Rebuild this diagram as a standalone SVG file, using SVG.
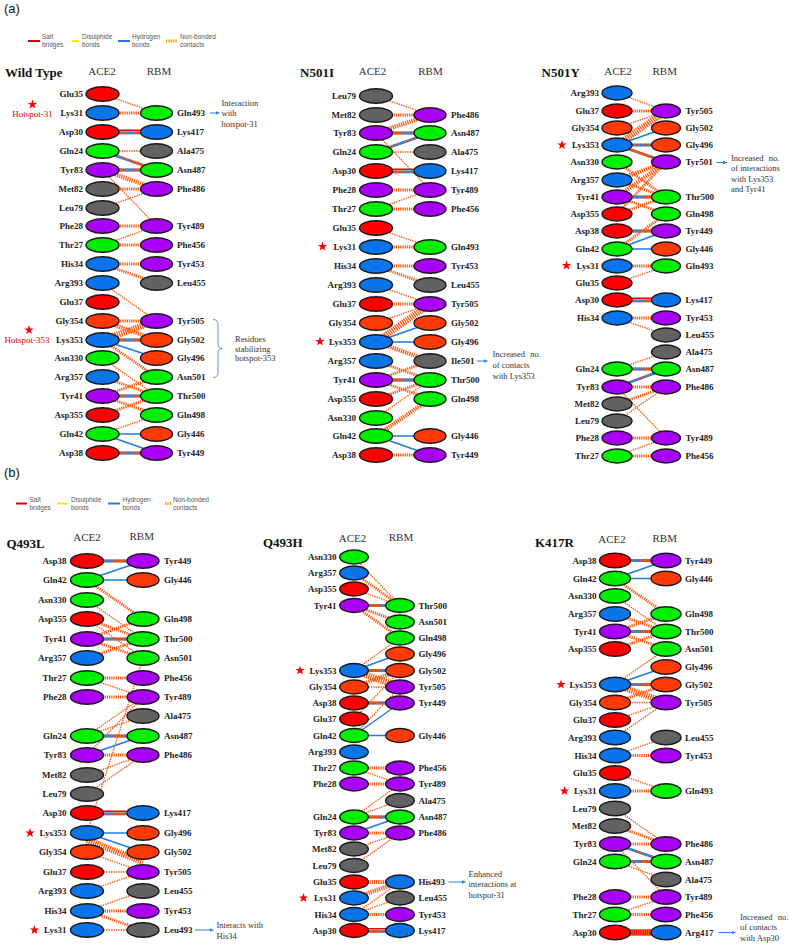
<svg xmlns="http://www.w3.org/2000/svg" width="789" height="944" viewBox="0 0 789 944">
<style>
.bg{fill:#fff}
ellipse{stroke:#1a1a1a;stroke-width:1.4}
.r{fill:#ff0000}.b{fill:#0a74ea}.g{fill:#00f000}.p{fill:#a800f8}.k{fill:#626262}.o{fill:#ff3a06}
text{font-family:"Liberation Serif","Times New Roman",serif}
.t{font-weight:bold;font-size:9px;fill:#222}
.e{text-anchor:end}
.h{font-size:11px;fill:#333;text-anchor:middle}
.ttl{font-weight:bold;font-size:13px;fill:#111}
.ann{font-size:8.5px;fill:#333}
.hs{font-size:9px;fill:#e00000;text-anchor:middle}
.leg{font-family:"Liberation Sans",Arial,sans-serif;font-size:6.5px;fill:#555}
.pl{font-family:"Liberation Sans",Arial,sans-serif;font-size:13px;fill:#111}
line{fill:none}
.c1{stroke:#ff5a10;stroke-width:1.4;stroke-dasharray:1.4 1}
.c2{stroke:#ff5a10;stroke-width:2.8;stroke-dasharray:1.3 0.9}
.c3{stroke:#ff5a10;stroke-width:4.2;stroke-dasharray:1.3 0.9}
.c4{stroke:#ff5a10;stroke-width:6.5;stroke-dasharray:1.3 0.9}
.hb{stroke:#1e7be0;stroke-width:1.4}
.hbw{stroke:#1e7be0;stroke-width:2.8}
.sb{stroke:#e8000a;stroke-width:1.6}
.sbw{stroke:#e8000a;stroke-width:6}
.arr{stroke:#2f80d0;stroke-width:1;marker-end:url(#ah)}
.brace{stroke:#5b9bd5;stroke-width:1;fill:none}
.star{fill:#ff0000}
</style>
<defs>
<marker id="ah" markerUnits="userSpaceOnUse" markerWidth="5" markerHeight="5" refX="4" refY="2.5" orient="auto"><path d="M0,0.6 L4,2.5 L0,4.4 Z" fill="#2f80d0"/></marker>
<path id="star" d="M0,-5 L1.18,-1.62 L4.76,-1.55 L1.9,0.62 L2.94,4.05 L0,2 L-2.94,4.05 L-1.9,0.62 L-4.76,-1.55 L-1.18,-1.62 Z"/>
</defs>
<rect class="bg" x="0" y="0" width="789" height="944"/>

<!-- Panel labels and legends -->
<text class="pl" x="4" y="13">(a)</text>
<text class="pl" x="4" y="477">(b)</text>
<g id="legend-a">
<line x1="28" y1="41" x2="40" y2="41" stroke="#e00000" stroke-width="2"/>
<text class="leg" x="42" y="39">Salt</text><text class="leg" x="42" y="46.5">bridges</text>
<line x1="72" y1="41" x2="79" y2="41" stroke="#ffe600" stroke-width="2"/>
<text class="leg" x="82" y="39">Disulphide</text><text class="leg" x="82" y="46.5">bonds</text>
<line x1="118" y1="41" x2="130" y2="41" stroke="#1e7be0" stroke-width="2"/>
<text class="leg" x="132" y="39">Hydrogen</text><text class="leg" x="132" y="46.5">bonds</text>
<line x1="166" y1="41" x2="177" y2="41" stroke="#ffa000" stroke-width="3" stroke-dasharray="1 0.7"/>
<text class="leg" x="180" y="39">Non-bonded</text><text class="leg" x="180" y="46.5">contacts</text>
</g>
<g id="legend-b">
<line x1="16" y1="503.5" x2="27" y2="503.5" stroke="#e00000" stroke-width="2"/>
<text class="leg" x="29.5" y="501.5">Salt</text><text class="leg" x="29.5" y="509.5">bridges</text>
<line x1="57" y1="503.5" x2="68" y2="503.5" stroke="#ffe600" stroke-width="2"/>
<text class="leg" x="71" y="501.5">Disulphide</text><text class="leg" x="71" y="509.5">bonds</text>
<line x1="108" y1="503.5" x2="120" y2="503.5" stroke="#1e7be0" stroke-width="2"/>
<text class="leg" x="122.5" y="501.5">Hydrogen</text><text class="leg" x="122.5" y="509.5">bonds</text>
<line x1="165" y1="503.5" x2="171" y2="503.5" stroke="#ffa000" stroke-width="3" stroke-dasharray="1 0.7"/>
<text class="leg" x="173" y="501.5">Non-bonded</text><text class="leg" x="173" y="509.5">contacts</text>
</g>

<!-- Titles / headers -->
<g id="headers">
<text class="ttl" x="5" y="77">Wild Type</text><text class="h" x="102" y="75">ACE2</text><text class="h" x="159" y="75">RBM</text>
<text class="ttl" x="300" y="77">N501I</text><text class="h" x="372.5" y="75">ACE2</text><text class="h" x="430.5" y="75">RBM</text>
<text class="ttl" x="541.5" y="77">N501Y</text><text class="h" x="618" y="75">ACE2</text><text class="h" x="664.7" y="75">RBM</text>
<text class="ttl" x="6.5" y="548">Q493L</text><text class="h" x="87" y="541">ACE2</text><text class="h" x="141.7" y="540">RBM</text>
<text class="ttl" x="263" y="547">Q493H</text><text class="h" x="352.5" y="542">ACE2</text><text class="h" x="401" y="541">RBM</text>
<text class="ttl" x="535" y="547">K417R</text><text class="h" x="612" y="542.5">ACE2</text><text class="h" x="664.7" y="541.5">RBM</text>
</g>

<g id="connectors">
<!-- WT -->
<line class="c1" x1="102.5" y1="94" x2="156.5" y2="113"/>
<line class="c2" x1="102.5" y1="113" x2="156.5" y2="113"/>
<line class="sb" x1="102.5" y1="130.2" x2="156.5" y2="130.2"/><line class="hbw" x1="102.5" y1="132.8" x2="156.5" y2="132.8"/><line class="c2" x1="102.5" y1="132.8" x2="156.5" y2="132.8"/>
<line class="c1" x1="102.5" y1="151" x2="156.5" y2="151"/>
<line class="hbw" x1="102.5" y1="151" x2="156.5" y2="170"/><line class="c2" x1="102.5" y1="151" x2="156.5" y2="170"/>
<line class="hbw" x1="102.5" y1="170" x2="156.5" y2="170"/><line class="c2" x1="102.5" y1="170" x2="156.5" y2="170"/>
<line class="c3" x1="102.5" y1="170" x2="156.5" y2="189"/>
<line class="c1" x1="102.5" y1="170" x2="156.5" y2="226"/>
<line class="c2" x1="102.5" y1="189" x2="156.5" y2="189"/>
<line class="c1" x1="102.5" y1="208" x2="156.5" y2="189"/>
<line class="c2" x1="102.5" y1="226" x2="156.5" y2="226"/>
<line class="c1" x1="102.5" y1="245" x2="156.5" y2="226"/>
<line class="c2" x1="102.5" y1="245" x2="156.5" y2="245"/>
<line class="c2" x1="102.5" y1="264" x2="156.5" y2="264"/>
<line class="c2" x1="102.5" y1="264" x2="156.5" y2="283"/>
<line class="c1" x1="102.5" y1="283" x2="156.5" y2="321"/>
<line class="c2" x1="102.5" y1="321" x2="156.5" y2="321"/>
<line class="c4" x1="102.5" y1="340" x2="156.5" y2="321"/>
<line class="c3" x1="102.5" y1="321" x2="156.5" y2="340"/>
<line class="hbw" x1="102.5" y1="340" x2="156.5" y2="340"/><line class="c2" x1="102.5" y1="340" x2="156.5" y2="340"/>
<line class="hb" x1="102.5" y1="340" x2="156.5" y2="358"/>
<line class="c2" x1="102.5" y1="340" x2="156.5" y2="377"/>
<line class="c1" x1="102.5" y1="358" x2="156.5" y2="396"/>
<line class="c2" x1="102.5" y1="377" x2="156.5" y2="396"/>
<line class="c2" x1="102.5" y1="396" x2="156.5" y2="377"/>
<line class="hbw" x1="102.5" y1="396" x2="156.5" y2="396"/><line class="c2" x1="102.5" y1="396" x2="156.5" y2="396"/>
<line class="c2" x1="102.5" y1="396" x2="156.5" y2="415"/>
<line class="c2" x1="102.5" y1="415" x2="156.5" y2="396"/>
<line class="c1" x1="102.5" y1="434" x2="156.5" y2="415"/>
<line class="hb" x1="102.5" y1="434" x2="156.5" y2="434"/>
<line class="hb" x1="102.5" y1="434" x2="156.5" y2="453"/>
<line class="hbw" x1="102.5" y1="453" x2="156.5" y2="453"/><line class="c2" x1="102.5" y1="453" x2="156.5" y2="453"/>
<!-- N501I -->
<line class="c1" x1="376" y1="96" x2="430" y2="115"/>
<line class="c2" x1="376" y1="115" x2="430" y2="115"/>
<line class="c3" x1="376" y1="133" x2="430" y2="115"/>
<line class="hbw" x1="376" y1="133" x2="430" y2="133"/><line class="c2" x1="376" y1="133" x2="430" y2="133"/>
<line class="hbw" x1="376" y1="152" x2="430" y2="133"/><line class="c1" x1="376" y1="152" x2="430" y2="133"/>
<line class="c1" x1="376" y1="152" x2="430" y2="152"/>
<line class="c1" x1="376" y1="133" x2="430" y2="190"/>
<line class="sb" x1="376" y1="169.2" x2="430" y2="169.2"/><line class="hbw" x1="376" y1="171.8" x2="430" y2="171.8"/><line class="c2" x1="376" y1="171.8" x2="430" y2="171.8"/>
<line class="c2" x1="376" y1="190" x2="430" y2="190"/>
<line class="c1" x1="376" y1="209" x2="430" y2="190"/>
<line class="c2" x1="376" y1="209" x2="430" y2="209"/>
<line class="c1" x1="376" y1="228" x2="430" y2="247"/>
<line class="c2" x1="376" y1="247" x2="430" y2="247"/>
<line class="c2" x1="376" y1="266" x2="430" y2="266"/>
<line class="c2" x1="376" y1="266" x2="430" y2="285"/>
<line class="c1" x1="376" y1="285" x2="430" y2="304"/>
<line class="c2" x1="376" y1="304" x2="430" y2="304"/>
<line class="c1" x1="376" y1="323" x2="430" y2="304"/>
<line class="c4" x1="376" y1="342" x2="430" y2="304"/>
<line class="hb" x1="376" y1="342" x2="430" y2="323"/>
<line class="hb" x1="376" y1="342" x2="430" y2="342"/>
<line class="c3" x1="376" y1="342" x2="430" y2="361"/>
<line class="c2" x1="376" y1="361" x2="430" y2="380"/>
<line class="c2" x1="376" y1="380" x2="430" y2="361"/>
<line class="hbw" x1="376" y1="380" x2="430" y2="380"/><line class="c2" x1="376" y1="380" x2="430" y2="380"/>
<line class="c2" x1="376" y1="380" x2="430" y2="399"/>
<line class="c2" x1="376" y1="399" x2="430" y2="380"/>
<line class="c1" x1="376" y1="418" x2="430" y2="380"/>
<line class="c3" x1="376" y1="436" x2="430" y2="399"/>
<line class="hb" x1="376" y1="436" x2="430" y2="436"/>
<line class="hb" x1="376" y1="436" x2="430" y2="455"/>
<line class="c2" x1="376" y1="455" x2="430" y2="455"/>
<!-- N501Y -->
<line class="c1" x1="617" y1="93" x2="666" y2="111"/>
<line class="c2" x1="617" y1="111" x2="666" y2="111"/>
<line class="c1" x1="617" y1="128" x2="666" y2="111"/>
<line class="c4" x1="617" y1="145" x2="666" y2="111"/>
<line class="hb" x1="617" y1="145" x2="666" y2="128"/>
<line class="hbw" x1="617" y1="145" x2="666" y2="145"/><line class="c1" x1="617" y1="145" x2="666" y2="145"/>
<line class="hbw" x1="617" y1="145" x2="666" y2="162"/><line class="c2" x1="617" y1="145" x2="666" y2="162"/>
<line class="c2" x1="617" y1="162" x2="666" y2="197"/>
<line class="c3" x1="617" y1="180" x2="666" y2="162"/>
<line class="c3" x1="617" y1="197" x2="666" y2="162"/>
<line class="c2" x1="617" y1="214" x2="666" y2="162"/>
<line class="c2" x1="617" y1="180" x2="666" y2="197"/>
<line class="hbw" x1="617" y1="197" x2="666" y2="197"/><line class="c2" x1="617" y1="197" x2="666" y2="197"/>
<line class="c2" x1="617" y1="197" x2="666" y2="214"/>
<line class="c2" x1="617" y1="214" x2="666" y2="197"/>
<line class="hbw" x1="617" y1="231" x2="666" y2="231"/><line class="c2" x1="617" y1="231" x2="666" y2="231"/>
<line class="hb" x1="617" y1="249" x2="666" y2="231"/>
<line class="hb" x1="617" y1="249" x2="666" y2="249"/>
<line class="c2" x1="617" y1="249" x2="666" y2="214"/>
<line class="c2" x1="617" y1="266" x2="666" y2="266"/>
<line class="c1" x1="617" y1="283" x2="666" y2="266"/>
<line class="sb" x1="617" y1="298.2" x2="666" y2="298.2"/><line class="hbw" x1="617" y1="300.8" x2="666" y2="300.8"/><line class="c2" x1="617" y1="300.8" x2="666" y2="300.8"/>
<line class="c2" x1="617" y1="318" x2="666" y2="318"/>
<line class="c1" x1="617" y1="318" x2="666" y2="335"/>
<line class="c1" x1="617" y1="369" x2="666" y2="352"/>
<line class="hbw" x1="617" y1="369" x2="666" y2="369"/><line class="c2" x1="617" y1="369" x2="666" y2="369"/>
<line class="hbw" x1="617" y1="387" x2="666" y2="369"/><line class="c1" x1="617" y1="387" x2="666" y2="369"/>
<line class="c2" x1="617" y1="387" x2="666" y2="387"/>
<line class="c2" x1="617" y1="404" x2="666" y2="387"/>
<line class="c1" x1="617" y1="421" x2="666" y2="387"/>
<line class="c1" x1="617" y1="387" x2="666" y2="438"/>
<line class="c2" x1="617" y1="438" x2="666" y2="438"/>
<line class="c1" x1="617" y1="456" x2="666" y2="438"/>
<line class="c2" x1="617" y1="456" x2="666" y2="456"/>
<!-- Q493L -->
<line class="hbw" x1="87" y1="561" x2="143" y2="561"/><line class="c2" x1="87" y1="561" x2="143" y2="561"/>
<line class="hb" x1="87" y1="580" x2="143" y2="561"/>
<line class="hb" x1="87" y1="580" x2="143" y2="580"/>
<line class="c2" x1="87" y1="580" x2="143" y2="619"/>
<line class="c1" x1="87" y1="600" x2="143" y2="639"/>
<line class="c2" x1="87" y1="619" x2="143" y2="639"/>
<line class="c1" x1="87" y1="619" x2="143" y2="658"/>
<line class="c2" x1="87" y1="639" x2="143" y2="619"/>
<line class="hbw" x1="87" y1="639" x2="143" y2="639"/><line class="c2" x1="87" y1="639" x2="143" y2="639"/>
<line class="c2" x1="87" y1="639" x2="143" y2="658"/>
<line class="c2" x1="87" y1="658" x2="143" y2="639"/>
<line class="c2" x1="87" y1="678" x2="143" y2="678"/>
<line class="c1" x1="87" y1="678" x2="143" y2="697"/>
<line class="c2" x1="87" y1="697" x2="143" y2="697"/>
<line class="c1" x1="143" y1="658" x2="87" y2="833"/>
<line class="c1" x1="87" y1="755" x2="143" y2="697"/>
<line class="c1" x1="87" y1="736" x2="143" y2="697"/>
<line class="c1" x1="87" y1="736" x2="143" y2="716"/>
<line class="hbw" x1="87" y1="736" x2="143" y2="736"/><line class="c2" x1="87" y1="736" x2="143" y2="736"/>
<line class="hb" x1="87" y1="755" x2="143" y2="736"/>
<line class="c2" x1="87" y1="755" x2="143" y2="755"/>
<line class="c1" x1="87" y1="775" x2="143" y2="755"/>
<line class="c1" x1="87" y1="794" x2="143" y2="755"/>
<line class="sb" x1="87" y1="811.2" x2="143" y2="811.2"/><line class="hbw" x1="87" y1="813.8" x2="143" y2="813.8"/><line class="c2" x1="87" y1="813.8" x2="143" y2="813.8"/>
<line class="hb" x1="87" y1="833" x2="143" y2="833"/>
<line class="hb" x1="87" y1="833" x2="143" y2="852"/>
<line class="c4" x1="87" y1="840" x2="143" y2="862"/>
<line class="c1" x1="87" y1="852" x2="143" y2="872"/>
<line class="c1" x1="87" y1="872" x2="143" y2="872"/>
<line class="c1" x1="87" y1="891" x2="143" y2="872"/>
<line class="c1" x1="87" y1="911" x2="143" y2="891"/>
<line class="c2" x1="87" y1="911" x2="143" y2="911"/>
<line class="c2" x1="87" y1="911" x2="143" y2="930"/>
<line class="c1" x1="87" y1="930" x2="143" y2="930"/>
<!-- Q493H -->
<line class="c1" x1="354" y1="557" x2="400" y2="605.5"/>
<line class="c2" x1="354" y1="573" x2="400" y2="605.5"/>
<line class="c1" x1="354" y1="589" x2="400" y2="605.5"/>
<line class="hbw" x1="354" y1="605.5" x2="400" y2="605.5"/><line class="c2" x1="354" y1="605.5" x2="400" y2="605.5"/>
<line class="c2" x1="354" y1="605.5" x2="400" y2="622"/>
<line class="c2" x1="354" y1="605.5" x2="400" y2="638"/>
<line class="c1" x1="354" y1="670.5" x2="400" y2="638"/>
<line class="hb" x1="354" y1="670.5" x2="400" y2="654"/>
<line class="hbw" x1="354" y1="670.5" x2="400" y2="670.5"/><line class="c2" x1="354" y1="670.5" x2="400" y2="670.5"/>
<line class="c4" x1="354" y1="670.5" x2="400" y2="687"/>
<line class="c3" x1="354" y1="687" x2="400" y2="670.5"/>
<line class="c1" x1="354" y1="687" x2="400" y2="687"/>
<line class="hbw" x1="354" y1="703" x2="400" y2="703"/><line class="c2" x1="354" y1="703" x2="400" y2="703"/>
<line class="c1" x1="354" y1="719" x2="400" y2="670.5"/>
<line class="c1" x1="354" y1="735.5" x2="400" y2="687"/>
<line class="hb" x1="354" y1="735.5" x2="400" y2="703"/>
<line class="hb" x1="354" y1="735.5" x2="400" y2="735.5"/>
<line class="c2" x1="354" y1="768" x2="400" y2="768"/>
<line class="c1" x1="354" y1="768" x2="400" y2="784"/>
<line class="c2" x1="354" y1="784" x2="400" y2="784"/>
<line class="c1" x1="354" y1="817" x2="400" y2="784"/>
<line class="c1" x1="354" y1="817" x2="400" y2="800.5"/>
<line class="hbw" x1="354" y1="817" x2="400" y2="817"/><line class="c2" x1="354" y1="817" x2="400" y2="817"/>
<line class="hb" x1="354" y1="833" x2="400" y2="817"/>
<line class="c2" x1="354" y1="833" x2="400" y2="833"/>
<line class="c1" x1="354" y1="849" x2="400" y2="833"/>
<line class="c1" x1="354" y1="865.5" x2="400" y2="833"/>
<line class="c3" x1="354" y1="882" x2="400" y2="882"/>
<line class="c3" x1="354" y1="898" x2="400" y2="882"/>
<line class="c1" x1="354" y1="914.5" x2="400" y2="882"/>
<line class="c1" x1="354" y1="914.5" x2="400" y2="898"/>
<line class="c2" x1="354" y1="914.5" x2="400" y2="914.5"/>
<line class="sb" x1="354" y1="928.7" x2="400" y2="928.7"/><line class="hbw" x1="354" y1="931.3" x2="400" y2="931.3"/><line class="c2" x1="354" y1="931.3" x2="400" y2="931.3"/>
<!-- K417R -->
<line class="hbw" x1="615" y1="560.5" x2="666" y2="560.5"/><line class="c2" x1="615" y1="560.5" x2="666" y2="560.5"/>
<line class="hb" x1="615" y1="578.5" x2="666" y2="560.5"/>
<line class="hb" x1="615" y1="578.5" x2="666" y2="578.5"/>
<line class="c2" x1="615" y1="578.5" x2="666" y2="614"/>
<line class="c1" x1="615" y1="596" x2="666" y2="631.5"/>
<line class="c2" x1="615" y1="614" x2="666" y2="631.5"/>
<line class="c2" x1="615" y1="631.5" x2="666" y2="614"/>
<line class="hbw" x1="615" y1="631.5" x2="666" y2="631.5"/><line class="c2" x1="615" y1="631.5" x2="666" y2="631.5"/>
<line class="c2" x1="615" y1="631.5" x2="666" y2="649"/>
<line class="c2" x1="615" y1="649" x2="666" y2="631.5"/>
<line class="c1" x1="615" y1="684.5" x2="666" y2="649"/>
<line class="hb" x1="615" y1="684.5" x2="666" y2="667"/>
<line class="hbw" x1="615" y1="684.5" x2="666" y2="684.5"/><line class="c2" x1="615" y1="684.5" x2="666" y2="684.5"/>
<line class="c4" x1="615" y1="684.5" x2="666" y2="702.5"/>
<line class="c2" x1="615" y1="702.5" x2="666" y2="684.5"/>
<line class="c1" x1="615" y1="702.5" x2="666" y2="702.5"/>
<line class="c1" x1="615" y1="720" x2="666" y2="702.5"/>
<line class="c1" x1="615" y1="737.5" x2="666" y2="702.5"/>
<line class="c1" x1="615" y1="755.5" x2="666" y2="737.5"/>
<line class="c2" x1="615" y1="755.5" x2="666" y2="755.5"/>
<line class="c1" x1="615" y1="773" x2="666" y2="791"/>
<line class="c2" x1="615" y1="791" x2="666" y2="791"/>
<line class="c1" x1="615" y1="808.5" x2="666" y2="844"/>
<line class="c2" x1="615" y1="826" x2="666" y2="844"/>
<line class="c2" x1="615" y1="844" x2="666" y2="844"/>
<line class="hbw" x1="615" y1="844" x2="666" y2="861.5"/><line class="c1" x1="615" y1="844" x2="666" y2="861.5"/>
<line class="hbw" x1="615" y1="861.5" x2="666" y2="861.5"/><line class="c2" x1="615" y1="861.5" x2="666" y2="861.5"/>
<line class="c1" x1="615" y1="861.5" x2="666" y2="879.5"/>
<line class="c1" x1="615" y1="844" x2="666" y2="897"/>
<line class="c2" x1="615" y1="897" x2="666" y2="897"/>
<line class="c1" x1="615" y1="914.5" x2="666" y2="897"/>
<line class="c2" x1="615" y1="914.5" x2="666" y2="914.5"/>
<line class="sbw" x1="615" y1="932.5" x2="666" y2="932.5"/><line class="c4" x1="615" y1="932.5" x2="666" y2="932.5"/>
</g>

<!-- WT nodes -->
<g id="wt-ace2-glu35"><ellipse class="r" cx="102.5" cy="94" rx="16.5" ry="7.3"/><text class="t e" x="83" y="97.2">Glu35</text></g>
<g id="wt-ace2-lys31"><ellipse class="b" cx="102.5" cy="113" rx="16.5" ry="7.3"/><text class="t e" x="83" y="116.2">Lys31</text></g>
<g id="wt-ace2-asp30"><ellipse class="r" cx="102.5" cy="132" rx="16.5" ry="7.3"/><text class="t e" x="83" y="135.2">Asp30</text></g>
<g id="wt-ace2-gln24"><ellipse class="g" cx="102.5" cy="151" rx="16.5" ry="7.3"/><text class="t e" x="83" y="154.2">Gln24</text></g>
<g id="wt-ace2-tyr83"><ellipse class="p" cx="102.5" cy="170" rx="16.5" ry="7.3"/><text class="t e" x="83" y="173.2">Tyr83</text></g>
<g id="wt-ace2-met82"><ellipse class="k" cx="102.5" cy="189" rx="16.5" ry="7.3"/><text class="t e" x="83" y="192.2">Met82</text></g>
<g id="wt-ace2-leu79"><ellipse class="k" cx="102.5" cy="208" rx="16.5" ry="7.3"/><text class="t e" x="83" y="211.2">Leu79</text></g>
<g id="wt-ace2-phe28"><ellipse class="p" cx="102.5" cy="226" rx="16.5" ry="7.3"/><text class="t e" x="83" y="229.2">Phe28</text></g>
<g id="wt-ace2-thr27"><ellipse class="g" cx="102.5" cy="245" rx="16.5" ry="7.3"/><text class="t e" x="83" y="248.2">Thr27</text></g>
<g id="wt-ace2-his34"><ellipse class="b" cx="102.5" cy="264" rx="16.5" ry="7.3"/><text class="t e" x="83" y="267.2">His34</text></g>
<g id="wt-ace2-arg393"><ellipse class="b" cx="102.5" cy="283" rx="16.5" ry="7.3"/><text class="t e" x="83" y="286.2">Arg393</text></g>
<g id="wt-ace2-glu37"><ellipse class="r" cx="102.5" cy="302" rx="16.5" ry="7.3"/><text class="t e" x="83" y="305.2">Glu37</text></g>
<g id="wt-ace2-gly354"><ellipse class="o" cx="102.5" cy="321" rx="16.5" ry="7.3"/><text class="t e" x="83" y="324.2">Gly354</text></g>
<g id="wt-ace2-lys353"><ellipse class="b" cx="102.5" cy="340" rx="16.5" ry="7.3"/><text class="t e" x="83" y="343.2">Lys353</text></g>
<g id="wt-ace2-asn330"><ellipse class="g" cx="102.5" cy="358" rx="16.5" ry="7.3"/><text class="t e" x="83" y="361.2">Asn330</text></g>
<g id="wt-ace2-arg357"><ellipse class="b" cx="102.5" cy="377" rx="16.5" ry="7.3"/><text class="t e" x="83" y="380.2">Arg357</text></g>
<g id="wt-ace2-tyr41"><ellipse class="p" cx="102.5" cy="396" rx="16.5" ry="7.3"/><text class="t e" x="83" y="399.2">Tyr41</text></g>
<g id="wt-ace2-asp355"><ellipse class="r" cx="102.5" cy="415" rx="16.5" ry="7.3"/><text class="t e" x="83" y="418.2">Asp355</text></g>
<g id="wt-ace2-gln42"><ellipse class="g" cx="102.5" cy="434" rx="16.5" ry="7.3"/><text class="t e" x="83" y="437.2">Gln42</text></g>
<g id="wt-ace2-asp38"><ellipse class="r" cx="102.5" cy="453" rx="16.5" ry="7.3"/><text class="t e" x="83" y="456.2">Asp38</text></g>
<g id="wt-rbm-gln493"><ellipse class="g" cx="156.5" cy="113" rx="16" ry="7.3"/><text class="t" x="177" y="116.2">Gln493</text></g>
<g id="wt-rbm-lys417"><ellipse class="b" cx="156.5" cy="132" rx="16" ry="7.3"/><text class="t" x="177" y="135.2">Lys417</text></g>
<g id="wt-rbm-ala475"><ellipse class="k" cx="156.5" cy="151" rx="16" ry="7.3"/><text class="t" x="177" y="154.2">Ala475</text></g>
<g id="wt-rbm-asn487"><ellipse class="g" cx="156.5" cy="170" rx="16" ry="7.3"/><text class="t" x="177" y="173.2">Asn487</text></g>
<g id="wt-rbm-phe486"><ellipse class="p" cx="156.5" cy="189" rx="16" ry="7.3"/><text class="t" x="177" y="192.2">Phe486</text></g>
<g id="wt-rbm-tyr489"><ellipse class="p" cx="156.5" cy="226" rx="16" ry="7.3"/><text class="t" x="177" y="229.2">Tyr489</text></g>
<g id="wt-rbm-phe456"><ellipse class="p" cx="156.5" cy="245" rx="16" ry="7.3"/><text class="t" x="177" y="248.2">Phe456</text></g>
<g id="wt-rbm-tyr453"><ellipse class="p" cx="156.5" cy="264" rx="16" ry="7.3"/><text class="t" x="177" y="267.2">Tyr453</text></g>
<g id="wt-rbm-leu455"><ellipse class="k" cx="156.5" cy="283" rx="16" ry="7.3"/><text class="t" x="177" y="286.2">Leu455</text></g>
<g id="wt-rbm-tyr505"><ellipse class="p" cx="156.5" cy="321" rx="16" ry="7.3"/><text class="t" x="177" y="324.2">Tyr505</text></g>
<g id="wt-rbm-gly502"><ellipse class="o" cx="156.5" cy="340" rx="16" ry="7.3"/><text class="t" x="177" y="343.2">Gly502</text></g>
<g id="wt-rbm-gly496"><ellipse class="o" cx="156.5" cy="358" rx="16" ry="7.3"/><text class="t" x="177" y="361.2">Gly496</text></g>
<g id="wt-rbm-asn501"><ellipse class="g" cx="156.5" cy="377" rx="16" ry="7.3"/><text class="t" x="177" y="380.2">Asn501</text></g>
<g id="wt-rbm-thr500"><ellipse class="g" cx="156.5" cy="396" rx="16" ry="7.3"/><text class="t" x="177" y="399.2">Thr500</text></g>
<g id="wt-rbm-gln498"><ellipse class="g" cx="156.5" cy="415" rx="16" ry="7.3"/><text class="t" x="177" y="418.2">Gln498</text></g>
<g id="wt-rbm-gly446"><ellipse class="o" cx="156.5" cy="434" rx="16" ry="7.3"/><text class="t" x="177" y="437.2">Gly446</text></g>
<g id="wt-rbm-tyr449"><ellipse class="p" cx="156.5" cy="453" rx="16" ry="7.3"/><text class="t" x="177" y="456.2">Tyr449</text></g>
<g id="wt-annotations">
<use href="#star" class="star" x="32.5" y="104.5"/><text class="hs" x="32.5" y="116.5">Hotspot-31</text>
<use href="#star" class="star" x="29" y="330"/><text class="hs" x="27" y="343">Hotspot-353</text>
<line class="arr" x1="210" y1="113" x2="219.5" y2="113"/>
<text class="ann" x="221.5" y="105.5">Interaction</text><text class="ann" x="221.5" y="116">with</text><text class="ann" x="221.5" y="126.5">hotspot-31</text>
<path class="brace" d="M213,319.5 Q218,319.5 218,324.5 L218,344 Q218,348.5 222.5,348.5 Q218,348.5 218,353 L218,372.5 Q218,377.5 213,377.5"/>
<text class="ann" x="235" y="342">Residues</text><text class="ann" x="235" y="351.5">stabilizing</text><text class="ann" x="235" y="361">hotspot-353</text>
</g>

<!-- N501I nodes -->
<g id="n501i-ace2-leu79"><ellipse class="k" cx="376" cy="96" rx="16.5" ry="7.3"/><text class="t e" x="356" y="99.2">Leu79</text></g>
<g id="n501i-ace2-met82"><ellipse class="k" cx="376" cy="115" rx="16.5" ry="7.3"/><text class="t e" x="356" y="118.2">Met82</text></g>
<g id="n501i-ace2-tyr83"><ellipse class="p" cx="376" cy="133" rx="16.5" ry="7.3"/><text class="t e" x="356" y="136.2">Tyr83</text></g>
<g id="n501i-ace2-gln24"><ellipse class="g" cx="376" cy="152" rx="16.5" ry="7.3"/><text class="t e" x="356" y="155.2">Gln24</text></g>
<g id="n501i-ace2-asp30"><ellipse class="r" cx="376" cy="171" rx="16.5" ry="7.3"/><text class="t e" x="356" y="174.2">Asp30</text></g>
<g id="n501i-ace2-phe28"><ellipse class="p" cx="376" cy="190" rx="16.5" ry="7.3"/><text class="t e" x="356" y="193.2">Phe28</text></g>
<g id="n501i-ace2-thr27"><ellipse class="g" cx="376" cy="209" rx="16.5" ry="7.3"/><text class="t e" x="356" y="212.2">Thr27</text></g>
<g id="n501i-ace2-glu35"><ellipse class="r" cx="376" cy="228" rx="16.5" ry="7.3"/><text class="t e" x="356" y="231.2">Glu35</text></g>
<g id="n501i-ace2-lys31"><ellipse class="b" cx="376" cy="247" rx="16.5" ry="7.3"/><text class="t e" x="356" y="250.2">Lys31</text><use href="#star" class="star" x="322.5" y="246.5"/></g>
<g id="n501i-ace2-his34"><ellipse class="b" cx="376" cy="266" rx="16.5" ry="7.3"/><text class="t e" x="356" y="269.2">His34</text></g>
<g id="n501i-ace2-arg393"><ellipse class="b" cx="376" cy="285" rx="16.5" ry="7.3"/><text class="t e" x="356" y="288.2">Arg393</text></g>
<g id="n501i-ace2-glu37"><ellipse class="r" cx="376" cy="304" rx="16.5" ry="7.3"/><text class="t e" x="356" y="307.2">Glu37</text></g>
<g id="n501i-ace2-gly354"><ellipse class="o" cx="376" cy="323" rx="16.5" ry="7.3"/><text class="t e" x="356" y="326.2">Gly354</text></g>
<g id="n501i-ace2-lys353"><ellipse class="b" cx="376" cy="342" rx="16.5" ry="7.3"/><text class="t e" x="356" y="345.2">Lys353</text><use href="#star" class="star" x="320" y="341.5"/></g>
<g id="n501i-ace2-arg357"><ellipse class="b" cx="376" cy="361" rx="16.5" ry="7.3"/><text class="t e" x="356" y="364.2">Arg357</text></g>
<g id="n501i-ace2-tyr41"><ellipse class="p" cx="376" cy="380" rx="16.5" ry="7.3"/><text class="t e" x="356" y="383.2">Tyr41</text></g>
<g id="n501i-ace2-asp355"><ellipse class="r" cx="376" cy="399" rx="16.5" ry="7.3"/><text class="t e" x="356" y="402.2">Asp355</text></g>
<g id="n501i-ace2-asn330"><ellipse class="g" cx="376" cy="418" rx="16.5" ry="7.3"/><text class="t e" x="356" y="421.2">Asn330</text></g>
<g id="n501i-ace2-gln42"><ellipse class="g" cx="376" cy="436" rx="16.5" ry="7.3"/><text class="t e" x="356" y="439.2">Gln42</text></g>
<g id="n501i-ace2-asp38"><ellipse class="r" cx="376" cy="455" rx="16.5" ry="7.3"/><text class="t e" x="356" y="458.2">Asp38</text></g>
<g id="n501i-rbm-phe486"><ellipse class="p" cx="430" cy="115" rx="16" ry="7.3"/><text class="t" x="451" y="118.2">Phe486</text></g>
<g id="n501i-rbm-asn487"><ellipse class="g" cx="430" cy="133" rx="16" ry="7.3"/><text class="t" x="451" y="136.2">Asn487</text></g>
<g id="n501i-rbm-ala475"><ellipse class="k" cx="430" cy="152" rx="16" ry="7.3"/><text class="t" x="451" y="155.2">Ala475</text></g>
<g id="n501i-rbm-lys417"><ellipse class="b" cx="430" cy="171" rx="16" ry="7.3"/><text class="t" x="451" y="174.2">Lys417</text></g>
<g id="n501i-rbm-tyr489"><ellipse class="p" cx="430" cy="190" rx="16" ry="7.3"/><text class="t" x="451" y="193.2">Tyr489</text></g>
<g id="n501i-rbm-phe456"><ellipse class="p" cx="430" cy="209" rx="16" ry="7.3"/><text class="t" x="451" y="212.2">Phe456</text></g>
<g id="n501i-rbm-gln493"><ellipse class="g" cx="430" cy="247" rx="16" ry="7.3"/><text class="t" x="451" y="250.2">Gln493</text></g>
<g id="n501i-rbm-tyr453"><ellipse class="p" cx="430" cy="266" rx="16" ry="7.3"/><text class="t" x="451" y="269.2">Tyr453</text></g>
<g id="n501i-rbm-leu455"><ellipse class="k" cx="430" cy="285" rx="16" ry="7.3"/><text class="t" x="451" y="288.2">Leu455</text></g>
<g id="n501i-rbm-tyr505"><ellipse class="p" cx="430" cy="304" rx="16" ry="7.3"/><text class="t" x="451" y="307.2">Tyr505</text></g>
<g id="n501i-rbm-gly502"><ellipse class="o" cx="430" cy="323" rx="16" ry="7.3"/><text class="t" x="451" y="326.2">Gly502</text></g>
<g id="n501i-rbm-gly496"><ellipse class="o" cx="430" cy="342" rx="16" ry="7.3"/><text class="t" x="451" y="345.2">Gly496</text></g>
<g id="n501i-rbm-ile501"><ellipse class="k" cx="430" cy="361" rx="16" ry="7.3"/><text class="t" x="451" y="364.2">Ile501</text></g>
<g id="n501i-rbm-thr500"><ellipse class="g" cx="430" cy="380" rx="16" ry="7.3"/><text class="t" x="451" y="383.2">Thr500</text></g>
<g id="n501i-rbm-gln498"><ellipse class="g" cx="430" cy="399" rx="16" ry="7.3"/><text class="t" x="451" y="402.2">Gln498</text></g>
<g id="n501i-rbm-gly446"><ellipse class="o" cx="430" cy="436" rx="16" ry="7.3"/><text class="t" x="451" y="439.2">Gly446</text></g>
<g id="n501i-rbm-tyr449"><ellipse class="p" cx="430" cy="455" rx="16" ry="7.3"/><text class="t" x="451" y="458.2">Tyr449</text></g>
<g id="n501i-annotation">
<line class="arr" x1="477" y1="361" x2="487.5" y2="361"/>
<text class="ann" x="492.5" y="357" word-spacing="3">Increased no.</text><text class="ann" x="492.5" y="368">of contacts</text><text class="ann" x="492.5" y="379">with Lys353</text>
</g>

<!-- N501Y nodes -->
<g id="n501y-ace2-arg393"><ellipse class="b" cx="617" cy="93" rx="15" ry="7"/><text class="t e" x="599" y="96.2">Arg393</text></g>
<g id="n501y-ace2-glu37"><ellipse class="r" cx="617" cy="111" rx="15" ry="7"/><text class="t e" x="599" y="114.2">Glu37</text></g>
<g id="n501y-ace2-gly354"><ellipse class="o" cx="617" cy="128" rx="15" ry="7"/><text class="t e" x="599" y="131.2">Gly354</text></g>
<g id="n501y-ace2-lys353"><ellipse class="b" cx="617" cy="145" rx="15" ry="7"/><text class="t e" x="599" y="148.2">Lys353</text><use href="#star" class="star" x="562" y="145"/></g>
<g id="n501y-ace2-asn330"><ellipse class="g" cx="617" cy="162" rx="15" ry="7"/><text class="t e" x="599" y="165.2">Asn330</text></g>
<g id="n501y-ace2-arg357"><ellipse class="b" cx="617" cy="180" rx="15" ry="7"/><text class="t e" x="599" y="183.2">Arg357</text></g>
<g id="n501y-ace2-tyr41"><ellipse class="p" cx="617" cy="197" rx="15" ry="7"/><text class="t e" x="599" y="200.2">Tyr41</text></g>
<g id="n501y-ace2-asp355"><ellipse class="r" cx="617" cy="214" rx="15" ry="7"/><text class="t e" x="599" y="217.2">Asp355</text></g>
<g id="n501y-ace2-asp38"><ellipse class="r" cx="617" cy="231" rx="15" ry="7"/><text class="t e" x="599" y="234.2">Asp38</text></g>
<g id="n501y-ace2-gln42"><ellipse class="g" cx="617" cy="249" rx="15" ry="7"/><text class="t e" x="599" y="252.2">Gln42</text></g>
<g id="n501y-ace2-lys31"><ellipse class="b" cx="617" cy="266" rx="15" ry="7"/><text class="t e" x="599" y="269.2">Lys31</text><use href="#star" class="star" x="566.5" y="265.5"/></g>
<g id="n501y-ace2-glu35"><ellipse class="r" cx="617" cy="283" rx="15" ry="7"/><text class="t e" x="599" y="286.2">Glu35</text></g>
<g id="n501y-ace2-asp30"><ellipse class="r" cx="617" cy="300" rx="15" ry="7"/><text class="t e" x="599" y="303.2">Asp30</text></g>
<g id="n501y-ace2-his34"><ellipse class="b" cx="617" cy="318" rx="15" ry="7"/><text class="t e" x="599" y="321.2">His34</text></g>
<g id="n501y-ace2-gln24"><ellipse class="g" cx="617" cy="369" rx="15" ry="7"/><text class="t e" x="599" y="372.2">Gln24</text></g>
<g id="n501y-ace2-tyr83"><ellipse class="p" cx="617" cy="387" rx="15" ry="7"/><text class="t e" x="599" y="390.2">Tyr83</text></g>
<g id="n501y-ace2-met82"><ellipse class="k" cx="617" cy="404" rx="15" ry="7"/><text class="t e" x="599" y="407.2">Met82</text></g>
<g id="n501y-ace2-leu79"><ellipse class="k" cx="617" cy="421" rx="15" ry="7"/><text class="t e" x="599" y="424.2">Leu79</text></g>
<g id="n501y-ace2-phe28"><ellipse class="p" cx="617" cy="438" rx="15" ry="7"/><text class="t e" x="599" y="441.2">Phe28</text></g>
<g id="n501y-ace2-thr27"><ellipse class="g" cx="617" cy="456" rx="15" ry="7"/><text class="t e" x="599" y="459.2">Thr27</text></g>
<g id="n501y-rbm-tyr505"><ellipse class="p" cx="666" cy="111" rx="14.5" ry="7"/><text class="t" x="685.5" y="114.2">Tyr505</text></g>
<g id="n501y-rbm-gly502"><ellipse class="o" cx="666" cy="128" rx="14.5" ry="7"/><text class="t" x="685.5" y="131.2">Gly502</text></g>
<g id="n501y-rbm-gly496"><ellipse class="o" cx="666" cy="145" rx="14.5" ry="7"/><text class="t" x="685.5" y="148.2">Gly496</text></g>
<g id="n501y-rbm-tyr501"><ellipse class="p" cx="666" cy="162" rx="14.5" ry="7"/><text class="t" x="685.5" y="165.2">Tyr501</text></g>
<g id="n501y-rbm-thr500"><ellipse class="g" cx="666" cy="197" rx="14.5" ry="7"/><text class="t" x="685.5" y="200.2">Thr500</text></g>
<g id="n501y-rbm-gln498"><ellipse class="g" cx="666" cy="214" rx="14.5" ry="7"/><text class="t" x="685.5" y="217.2">Gln498</text></g>
<g id="n501y-rbm-tyr449"><ellipse class="p" cx="666" cy="231" rx="14.5" ry="7"/><text class="t" x="685.5" y="234.2">Tyr449</text></g>
<g id="n501y-rbm-gly446"><ellipse class="o" cx="666" cy="249" rx="14.5" ry="7"/><text class="t" x="685.5" y="252.2">Gly446</text></g>
<g id="n501y-rbm-gln493"><ellipse class="g" cx="666" cy="266" rx="14.5" ry="7"/><text class="t" x="685.5" y="269.2">Gln493</text></g>
<g id="n501y-rbm-lys417"><ellipse class="b" cx="666" cy="300" rx="14.5" ry="7"/><text class="t" x="685.5" y="303.2">Lys417</text></g>
<g id="n501y-rbm-tyr453"><ellipse class="p" cx="666" cy="318" rx="14.5" ry="7"/><text class="t" x="685.5" y="321.2">Tyr453</text></g>
<g id="n501y-rbm-leu455"><ellipse class="k" cx="666" cy="335" rx="14.5" ry="7"/><text class="t" x="685.5" y="338.2">Leu455</text></g>
<g id="n501y-rbm-ala475"><ellipse class="k" cx="666" cy="352" rx="14.5" ry="7"/><text class="t" x="685.5" y="355.2">Ala475</text></g>
<g id="n501y-rbm-asn487"><ellipse class="g" cx="666" cy="369" rx="14.5" ry="7"/><text class="t" x="685.5" y="372.2">Asn487</text></g>
<g id="n501y-rbm-phe486"><ellipse class="p" cx="666" cy="387" rx="14.5" ry="7"/><text class="t" x="685.5" y="390.2">Phe486</text></g>
<g id="n501y-rbm-tyr489"><ellipse class="p" cx="666" cy="438" rx="14.5" ry="7"/><text class="t" x="685.5" y="441.2">Tyr489</text></g>
<g id="n501y-rbm-phe456"><ellipse class="p" cx="666" cy="456" rx="14.5" ry="7"/><text class="t" x="685.5" y="459.2">Phe456</text></g>
<g id="n501y-annotation">
<line class="arr" x1="716.5" y1="162.5" x2="727" y2="162.5"/>
<text class="ann" x="731" y="160.5" word-spacing="3">Increased no.</text><text class="ann" x="731" y="171">of interactions</text><text class="ann" x="731" y="181.5">with Lys353</text><text class="ann" x="731" y="192">and Tyr41</text>
</g>

<!-- Q493L nodes -->
<g id="q493l-ace2-asp38"><ellipse class="r" cx="87" cy="561" rx="16.5" ry="7.3"/><text class="t e" x="66.5" y="564.2">Asp38</text></g>
<g id="q493l-ace2-gln42"><ellipse class="g" cx="87" cy="580" rx="16.5" ry="7.3"/><text class="t e" x="66.5" y="583.2">Gln42</text></g>
<g id="q493l-ace2-asn330"><ellipse class="g" cx="87" cy="600" rx="16.5" ry="7.3"/><text class="t e" x="66.5" y="603.2">Asn330</text></g>
<g id="q493l-ace2-asp355"><ellipse class="r" cx="87" cy="619" rx="16.5" ry="7.3"/><text class="t e" x="66.5" y="622.2">Asp355</text></g>
<g id="q493l-ace2-tyr41"><ellipse class="p" cx="87" cy="639" rx="16.5" ry="7.3"/><text class="t e" x="66.5" y="642.2">Tyr41</text></g>
<g id="q493l-ace2-arg357"><ellipse class="b" cx="87" cy="658" rx="16.5" ry="7.3"/><text class="t e" x="66.5" y="661.2">Arg357</text></g>
<g id="q493l-ace2-thr27"><ellipse class="g" cx="87" cy="678" rx="16.5" ry="7.3"/><text class="t e" x="66.5" y="681.2">Thr27</text></g>
<g id="q493l-ace2-phe28"><ellipse class="p" cx="87" cy="697" rx="16.5" ry="7.3"/><text class="t e" x="66.5" y="700.2">Phe28</text></g>
<g id="q493l-ace2-gln24"><ellipse class="g" cx="87" cy="736" rx="16.5" ry="7.3"/><text class="t e" x="66.5" y="739.2">Gln24</text></g>
<g id="q493l-ace2-tyr83"><ellipse class="p" cx="87" cy="755" rx="16.5" ry="7.3"/><text class="t e" x="66.5" y="758.2">Tyr83</text></g>
<g id="q493l-ace2-met82"><ellipse class="k" cx="87" cy="775" rx="16.5" ry="7.3"/><text class="t e" x="66.5" y="778.2">Met82</text></g>
<g id="q493l-ace2-leu79"><ellipse class="k" cx="87" cy="794" rx="16.5" ry="7.3"/><text class="t e" x="66.5" y="797.2">Leu79</text></g>
<g id="q493l-ace2-asp30"><ellipse class="r" cx="87" cy="813" rx="16.5" ry="7.3"/><text class="t e" x="66.5" y="816.2">Asp30</text></g>
<g id="q493l-ace2-lys353"><ellipse class="b" cx="87" cy="833" rx="16.5" ry="7.3"/><text class="t e" x="66.5" y="836.2">Lys353</text><use href="#star" class="star" x="30" y="833"/></g>
<g id="q493l-ace2-gly354"><ellipse class="o" cx="87" cy="852" rx="16.5" ry="7.3"/><text class="t e" x="66.5" y="855.2">Gly354</text></g>
<g id="q493l-ace2-glu37"><ellipse class="r" cx="87" cy="872" rx="16.5" ry="7.3"/><text class="t e" x="66.5" y="875.2">Glu37</text></g>
<g id="q493l-ace2-arg393"><ellipse class="b" cx="87" cy="891" rx="16.5" ry="7.3"/><text class="t e" x="66.5" y="894.2">Arg393</text></g>
<g id="q493l-ace2-his34"><ellipse class="b" cx="87" cy="911" rx="16.5" ry="7.3"/><text class="t e" x="66.5" y="914.2">His34</text></g>
<g id="q493l-ace2-lys31"><ellipse class="b" cx="87" cy="930" rx="16.5" ry="7.3"/><text class="t e" x="66.5" y="933.2">Lys31</text><use href="#star" class="star" x="34.5" y="930"/></g>
<g id="q493l-rbm-tyr449"><ellipse class="p" cx="143" cy="561" rx="16" ry="7.3"/><text class="t" x="164" y="564.2">Tyr449</text></g>
<g id="q493l-rbm-gly446"><ellipse class="o" cx="143" cy="580" rx="16" ry="7.3"/><text class="t" x="164" y="583.2">Gly446</text></g>
<g id="q493l-rbm-gln498"><ellipse class="g" cx="143" cy="619" rx="16" ry="7.3"/><text class="t" x="164" y="622.2">Gln498</text></g>
<g id="q493l-rbm-thr500"><ellipse class="g" cx="143" cy="639" rx="16" ry="7.3"/><text class="t" x="164" y="642.2">Thr500</text></g>
<g id="q493l-rbm-asn501"><ellipse class="g" cx="143" cy="658" rx="16" ry="7.3"/><text class="t" x="164" y="661.2">Asn501</text></g>
<g id="q493l-rbm-phe456"><ellipse class="p" cx="143" cy="678" rx="16" ry="7.3"/><text class="t" x="164" y="681.2">Phe456</text></g>
<g id="q493l-rbm-tyr489"><ellipse class="p" cx="143" cy="697" rx="16" ry="7.3"/><text class="t" x="164" y="700.2">Tyr489</text></g>
<g id="q493l-rbm-ala475"><ellipse class="k" cx="143" cy="716" rx="16" ry="7.3"/><text class="t" x="164" y="719.2">Ala475</text></g>
<g id="q493l-rbm-asn487"><ellipse class="g" cx="143" cy="736" rx="16" ry="7.3"/><text class="t" x="164" y="739.2">Asn487</text></g>
<g id="q493l-rbm-phe486"><ellipse class="p" cx="143" cy="755" rx="16" ry="7.3"/><text class="t" x="164" y="758.2">Phe486</text></g>
<g id="q493l-rbm-lys417"><ellipse class="b" cx="143" cy="813" rx="16" ry="7.3"/><text class="t" x="164" y="816.2">Lys417</text></g>
<g id="q493l-rbm-gly496"><ellipse class="o" cx="143" cy="833" rx="16" ry="7.3"/><text class="t" x="164" y="836.2">Gly496</text></g>
<g id="q493l-rbm-gly502"><ellipse class="o" cx="143" cy="852" rx="16" ry="7.3"/><text class="t" x="164" y="855.2">Gly502</text></g>
<g id="q493l-rbm-tyr505"><ellipse class="p" cx="143" cy="872" rx="16" ry="7.3"/><text class="t" x="164" y="875.2">Tyr505</text></g>
<g id="q493l-rbm-leu455"><ellipse class="k" cx="143" cy="891" rx="16" ry="7.3"/><text class="t" x="164" y="894.2">Leu455</text></g>
<g id="q493l-rbm-tyr453"><ellipse class="p" cx="143" cy="911" rx="16" ry="7.3"/><text class="t" x="164" y="914.2">Tyr453</text></g>
<g id="q493l-rbm-leu493"><ellipse class="k" cx="143" cy="930" rx="16" ry="7.3"/><text class="t" x="164" y="933.2">Leu493</text></g>
<g id="q493l-annotation">
<line class="arr" x1="195" y1="930" x2="213.5" y2="930"/>
<text class="ann" x="216.5" y="927.7">Interacts with</text><text class="ann" x="216.5" y="938.5">His34</text>
</g>

<!-- Q493H nodes -->
<g id="q493h-ace2-asn330"><ellipse class="g" cx="354" cy="557" rx="14.3" ry="7"/><text class="t e" x="336.5" y="560.2">Asn330</text></g>
<g id="q493h-ace2-arg357"><ellipse class="b" cx="354" cy="573" rx="14.3" ry="7"/><text class="t e" x="336.5" y="576.2">Arg357</text></g>
<g id="q493h-ace2-asp355"><ellipse class="r" cx="354" cy="589" rx="14.3" ry="7"/><text class="t e" x="336.5" y="592.2">Asp355</text></g>
<g id="q493h-ace2-tyr41"><ellipse class="p" cx="354" cy="605.5" rx="14.3" ry="7"/><text class="t e" x="336.5" y="608.7">Tyr41</text></g>
<g id="q493h-ace2-lys353"><ellipse class="b" cx="354" cy="670.5" rx="14.3" ry="7"/><text class="t e" x="336.5" y="673.7">Lys353</text><use href="#star" class="star" x="300" y="670.5"/></g>
<g id="q493h-ace2-gly354"><ellipse class="o" cx="354" cy="687" rx="14.3" ry="7"/><text class="t e" x="336.5" y="690.2">Gly354</text></g>
<g id="q493h-ace2-asp38"><ellipse class="r" cx="354" cy="703" rx="14.3" ry="7"/><text class="t e" x="336.5" y="706.2">Asp38</text></g>
<g id="q493h-ace2-glu37"><ellipse class="r" cx="354" cy="719" rx="14.3" ry="7"/><text class="t e" x="336.5" y="722.2">Glu37</text></g>
<g id="q493h-ace2-gln42"><ellipse class="g" cx="354" cy="735.5" rx="14.3" ry="7"/><text class="t e" x="336.5" y="738.7">Gln42</text></g>
<g id="q493h-ace2-arg393"><ellipse class="b" cx="354" cy="752" rx="14.3" ry="7"/><text class="t e" x="336.5" y="755.2">Arg393</text></g>
<g id="q493h-ace2-thr27"><ellipse class="g" cx="354" cy="768" rx="14.3" ry="7"/><text class="t e" x="336.5" y="771.2">Thr27</text></g>
<g id="q493h-ace2-phe28"><ellipse class="p" cx="354" cy="784" rx="14.3" ry="7"/><text class="t e" x="336.5" y="787.2">Phe28</text></g>
<g id="q493h-ace2-gln24"><ellipse class="g" cx="354" cy="817" rx="14.3" ry="7"/><text class="t e" x="336.5" y="820.2">Gln24</text></g>
<g id="q493h-ace2-tyr83"><ellipse class="p" cx="354" cy="833" rx="14.3" ry="7"/><text class="t e" x="336.5" y="836.2">Tyr83</text></g>
<g id="q493h-ace2-met82"><ellipse class="k" cx="354" cy="849" rx="14.3" ry="7"/><text class="t e" x="336.5" y="852.2">Met82</text></g>
<g id="q493h-ace2-leu79"><ellipse class="k" cx="354" cy="865.5" rx="14.3" ry="7"/><text class="t e" x="336.5" y="868.7">Leu79</text></g>
<g id="q493h-ace2-glu35"><ellipse class="r" cx="354" cy="882" rx="14.3" ry="7"/><text class="t e" x="336.5" y="885.2">Glu35</text></g>
<g id="q493h-ace2-lys31"><ellipse class="b" cx="354" cy="898" rx="14.3" ry="7"/><text class="t e" x="336.5" y="901.2">Lys31</text><use href="#star" class="star" x="303.5" y="898"/></g>
<g id="q493h-ace2-his34"><ellipse class="b" cx="354" cy="914.5" rx="14.3" ry="7"/><text class="t e" x="336.5" y="917.7">His34</text></g>
<g id="q493h-ace2-asp30"><ellipse class="r" cx="354" cy="930.5" rx="14.3" ry="7"/><text class="t e" x="336.5" y="933.7">Asp30</text></g>
<g id="q493h-rbm-thr500"><ellipse class="g" cx="400" cy="605.5" rx="14.3" ry="7"/><text class="t" x="418.5" y="608.7">Thr500</text></g>
<g id="q493h-rbm-asn501"><ellipse class="g" cx="400" cy="622" rx="14.3" ry="7"/><text class="t" x="418.5" y="625.2">Asn501</text></g>
<g id="q493h-rbm-gln498"><ellipse class="g" cx="400" cy="638" rx="14.3" ry="7"/><text class="t" x="418.5" y="641.2">Gln498</text></g>
<g id="q493h-rbm-gly496"><ellipse class="o" cx="400" cy="654" rx="14.3" ry="7"/><text class="t" x="418.5" y="657.2">Gly496</text></g>
<g id="q493h-rbm-gly502"><ellipse class="o" cx="400" cy="670.5" rx="14.3" ry="7"/><text class="t" x="418.5" y="673.7">Gly502</text></g>
<g id="q493h-rbm-tyr505"><ellipse class="p" cx="400" cy="687" rx="14.3" ry="7"/><text class="t" x="418.5" y="690.2">Tyr505</text></g>
<g id="q493h-rbm-tyr449"><ellipse class="p" cx="400" cy="703" rx="14.3" ry="7"/><text class="t" x="418.5" y="706.2">Tyr449</text></g>
<g id="q493h-rbm-gly446"><ellipse class="o" cx="400" cy="735.5" rx="14.3" ry="7"/><text class="t" x="418.5" y="738.7">Gly446</text></g>
<g id="q493h-rbm-phe456"><ellipse class="p" cx="400" cy="768" rx="14.3" ry="7"/><text class="t" x="418.5" y="771.2">Phe456</text></g>
<g id="q493h-rbm-tyr489"><ellipse class="p" cx="400" cy="784" rx="14.3" ry="7"/><text class="t" x="418.5" y="787.2">Tyr489</text></g>
<g id="q493h-rbm-ala475"><ellipse class="k" cx="400" cy="800.5" rx="14.3" ry="7"/><text class="t" x="418.5" y="803.7">Ala475</text></g>
<g id="q493h-rbm-asn487"><ellipse class="g" cx="400" cy="817" rx="14.3" ry="7"/><text class="t" x="418.5" y="820.2">Asn487</text></g>
<g id="q493h-rbm-phe486"><ellipse class="p" cx="400" cy="833" rx="14.3" ry="7"/><text class="t" x="418.5" y="836.2">Phe486</text></g>
<g id="q493h-rbm-his493"><ellipse class="b" cx="400" cy="882" rx="14.3" ry="7"/><text class="t" x="418.5" y="885.2">His493</text></g>
<g id="q493h-rbm-leu455"><ellipse class="k" cx="400" cy="898" rx="14.3" ry="7"/><text class="t" x="418.5" y="901.2">Leu455</text></g>
<g id="q493h-rbm-tyr453"><ellipse class="p" cx="400" cy="914.5" rx="14.3" ry="7"/><text class="t" x="418.5" y="917.7">Tyr453</text></g>
<g id="q493h-rbm-lys417"><ellipse class="b" cx="400" cy="930.5" rx="14.3" ry="7"/><text class="t" x="418.5" y="933.7">Lys417</text></g>
<g id="q493h-annotation">
<line class="arr" x1="448.5" y1="882" x2="465.5" y2="882"/>
<text class="ann" x="468.5" y="876.5">Enhanced</text><text class="ann" x="468.5" y="887">interactions at</text><text class="ann" x="468.5" y="897.5">hotspot-31</text>
</g>

<!-- K417R nodes -->
<g id="k417r-ace2-asp38"><ellipse class="r" cx="615" cy="560.5" rx="15.5" ry="7.3"/><text class="t e" x="596.5" y="563.7">Asp38</text></g>
<g id="k417r-ace2-gln42"><ellipse class="g" cx="615" cy="578.5" rx="15.5" ry="7.3"/><text class="t e" x="596.5" y="581.7">Gln42</text></g>
<g id="k417r-ace2-asn330"><ellipse class="g" cx="615" cy="596" rx="15.5" ry="7.3"/><text class="t e" x="596.5" y="599.2">Asn330</text></g>
<g id="k417r-ace2-arg357"><ellipse class="b" cx="615" cy="614" rx="15.5" ry="7.3"/><text class="t e" x="596.5" y="617.2">Arg357</text></g>
<g id="k417r-ace2-tyr41"><ellipse class="p" cx="615" cy="631.5" rx="15.5" ry="7.3"/><text class="t e" x="596.5" y="634.7">Tyr41</text></g>
<g id="k417r-ace2-asp355"><ellipse class="r" cx="615" cy="649" rx="15.5" ry="7.3"/><text class="t e" x="596.5" y="652.2">Asp355</text></g>
<g id="k417r-ace2-lys353"><ellipse class="b" cx="615" cy="684.5" rx="15.5" ry="7.3"/><text class="t e" x="596.5" y="687.7">Lys353</text><use href="#star" class="star" x="561" y="684.5"/></g>
<g id="k417r-ace2-gly354"><ellipse class="o" cx="615" cy="702.5" rx="15.5" ry="7.3"/><text class="t e" x="596.5" y="705.7">Gly354</text></g>
<g id="k417r-ace2-glu37"><ellipse class="r" cx="615" cy="720" rx="15.5" ry="7.3"/><text class="t e" x="596.5" y="723.2">Glu37</text></g>
<g id="k417r-ace2-arg393"><ellipse class="b" cx="615" cy="737.5" rx="15.5" ry="7.3"/><text class="t e" x="596.5" y="740.7">Arg393</text></g>
<g id="k417r-ace2-his34"><ellipse class="b" cx="615" cy="755.5" rx="15.5" ry="7.3"/><text class="t e" x="596.5" y="758.7">His34</text></g>
<g id="k417r-ace2-glu35"><ellipse class="r" cx="615" cy="773" rx="15.5" ry="7.3"/><text class="t e" x="596.5" y="776.2">Glu35</text></g>
<g id="k417r-ace2-lys31"><ellipse class="b" cx="615" cy="791" rx="15.5" ry="7.3"/><text class="t e" x="596.5" y="794.2">Lys31</text><use href="#star" class="star" x="564.5" y="791"/></g>
<g id="k417r-ace2-leu79"><ellipse class="k" cx="615" cy="808.5" rx="15.5" ry="7.3"/><text class="t e" x="596.5" y="811.7">Leu79</text></g>
<g id="k417r-ace2-met82"><ellipse class="k" cx="615" cy="826" rx="15.5" ry="7.3"/><text class="t e" x="596.5" y="829.2">Met82</text></g>
<g id="k417r-ace2-tyr83"><ellipse class="p" cx="615" cy="844" rx="15.5" ry="7.3"/><text class="t e" x="596.5" y="847.2">Tyr83</text></g>
<g id="k417r-ace2-gln24"><ellipse class="g" cx="615" cy="861.5" rx="15.5" ry="7.3"/><text class="t e" x="596.5" y="864.7">Gln24</text></g>
<g id="k417r-ace2-phe28"><ellipse class="p" cx="615" cy="897" rx="15.5" ry="7.3"/><text class="t e" x="596.5" y="900.2">Phe28</text></g>
<g id="k417r-ace2-thr27"><ellipse class="g" cx="615" cy="914.5" rx="15.5" ry="7.3"/><text class="t e" x="596.5" y="917.7">Thr27</text></g>
<g id="k417r-ace2-asp30"><ellipse class="r" cx="615" cy="932.5" rx="15.5" ry="7.3"/><text class="t e" x="596.5" y="935.7">Asp30</text></g>
<g id="k417r-rbm-tyr449"><ellipse class="p" cx="666" cy="560.5" rx="15" ry="7.3"/><text class="t" x="685" y="563.7">Tyr449</text></g>
<g id="k417r-rbm-gly446"><ellipse class="o" cx="666" cy="578.5" rx="15" ry="7.3"/><text class="t" x="685" y="581.7">Gly446</text></g>
<g id="k417r-rbm-gln498"><ellipse class="g" cx="666" cy="614" rx="15" ry="7.3"/><text class="t" x="685" y="617.2">Gln498</text></g>
<g id="k417r-rbm-thr500"><ellipse class="g" cx="666" cy="631.5" rx="15" ry="7.3"/><text class="t" x="685" y="634.7">Thr500</text></g>
<g id="k417r-rbm-asn501"><ellipse class="g" cx="666" cy="649" rx="15" ry="7.3"/><text class="t" x="685" y="652.2">Asn501</text></g>
<g id="k417r-rbm-gly496"><ellipse class="o" cx="666" cy="667" rx="15" ry="7.3"/><text class="t" x="685" y="670.2">Gly496</text></g>
<g id="k417r-rbm-gly502"><ellipse class="o" cx="666" cy="684.5" rx="15" ry="7.3"/><text class="t" x="685" y="687.7">Gly502</text></g>
<g id="k417r-rbm-tyr505"><ellipse class="p" cx="666" cy="702.5" rx="15" ry="7.3"/><text class="t" x="685" y="705.7">Tyr505</text></g>
<g id="k417r-rbm-leu455"><ellipse class="k" cx="666" cy="737.5" rx="15" ry="7.3"/><text class="t" x="685" y="740.7">Leu455</text></g>
<g id="k417r-rbm-tyr453"><ellipse class="p" cx="666" cy="755.5" rx="15" ry="7.3"/><text class="t" x="685" y="758.7">Tyr453</text></g>
<g id="k417r-rbm-gln493"><ellipse class="g" cx="666" cy="791" rx="15" ry="7.3"/><text class="t" x="685" y="794.2">Gln493</text></g>
<g id="k417r-rbm-phe486"><ellipse class="p" cx="666" cy="844" rx="15" ry="7.3"/><text class="t" x="685" y="847.2">Phe486</text></g>
<g id="k417r-rbm-asn487"><ellipse class="g" cx="666" cy="861.5" rx="15" ry="7.3"/><text class="t" x="685" y="864.7">Asn487</text></g>
<g id="k417r-rbm-ala475"><ellipse class="k" cx="666" cy="879.5" rx="15" ry="7.3"/><text class="t" x="685" y="882.7">Ala475</text></g>
<g id="k417r-rbm-tyr489"><ellipse class="p" cx="666" cy="897" rx="15" ry="7.3"/><text class="t" x="685" y="900.2">Tyr489</text></g>
<g id="k417r-rbm-phe456"><ellipse class="p" cx="666" cy="914.5" rx="15" ry="7.3"/><text class="t" x="685" y="917.7">Phe456</text></g>
<g id="k417r-rbm-arg417"><ellipse class="b" cx="666" cy="932.5" rx="15" ry="7.3"/><text class="t" x="685" y="935.7">Arg417</text></g>
<g id="k417r-annotation">
<line class="arr" x1="718.5" y1="932.5" x2="735.5" y2="932.5"/>
<text class="ann" x="740" y="919.5" word-spacing="3">Increased no.</text><text class="ann" x="740" y="930">of contacts</text><text class="ann" x="740" y="941">with Asp30</text>
</g>
</svg>
